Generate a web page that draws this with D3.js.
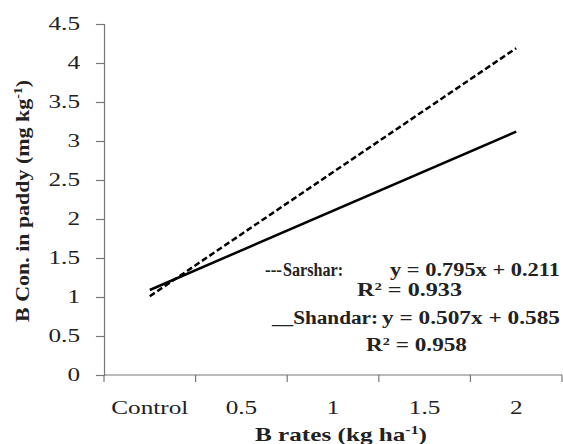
<!DOCTYPE html>
<html>
<head>
<meta charset="utf-8">
<script src="https://cdn.jsdelivr.net/npm/d3@7"></script>
<style>
  body { margin: 0; background: #fff; }
  svg text { font-family: "Liberation Serif", "Times New Roman", serif; fill: #222; }
</style>
</head>
<body>
<svg id="chart" width="563" height="444"></svg>
<script>
// Categories on the x axis
var categories = ['Control', '0.5', '1', '1.5', '2']
var yTicks = [0, 0.5, 1, 1.5, 2, 2.5, 3, 3.5, 4, 4.5]

// Trendline ends (first and last category)
var lineCats = ['Control', '2']
var sarshar = [1.01, 4.19]
var shandar = [1.09, 3.12]

var svg = d3.select('#chart')

// Plot area (avoid window.top clash)
var pLeft = 104, pRight = 562, pTop = 24, pBottom = 375

// The source picture is stretched sideways, so widen
// the glyphs by a factor or to a fixed width
function stretch(sel, k) {
  sel.each(function() {
    var w = this.getComputedTextLength()
    d3.select(this)
      .attr('textLength', w * k)
      .attr('lengthAdjust', 'spacingAndGlyphs')
  })
}

function fit(sel, w) {
  sel.attr('textLength', w).attr('lengthAdjust', 'spacingAndGlyphs')
}

var x = d3.scaleBand()
  .domain(categories)
  .range([pLeft, pRight])

var y = d3.scaleLinear()
  .domain([0, 4.5])
  .range([pBottom, pTop])

// x axis
var xAxis = svg.append('g')
  .attr('transform', 'translate(0,' + pBottom + ')')

xAxis.append('line')
  .attr('x1', pLeft).attr('x2', pRight)
  .attr('stroke', '#777').attr('stroke-width', 1.2)

// ticks sit between categories
var edges = categories.map(c => x(c)).concat([pRight])
xAxis.selectAll('.xt')
  .data(edges)
  .enter().append('line')
  .attr('x1', d => d).attr('x2', d => d)
  .attr('y1', 0).attr('y2', 7)
  .attr('stroke', '#777').attr('stroke-width', 1.2)

xAxis.selectAll('.xl')
  .data(categories)
  .enter().append('text')
  .attr('x', d => x(d) + x.bandwidth() / 2)
  .attr('y', 39)
  .attr('text-anchor', 'middle')
  .style('font-size', '18px')
  .text(d => d)
  .call(stretch, 1.4)

// y axis
var yAxis = svg.append('g')
  .attr('transform', 'translate(' + pLeft + ',0)')
  .call(d3.axisLeft(y).tickValues(yTicks).tickSize(8).tickPadding(16).tickFormat(d3.format('')))

yAxis.select('.domain').attr('stroke', '#777').attr('stroke-width', 1.2)
yAxis.selectAll('.tick line').attr('stroke', '#777').attr('stroke-width', 1.2)
yAxis.selectAll('.tick text')
  .style('font-size', '18px')
  .style('font-family', '"Liberation Serif", serif')
  .attr('fill', '#222')
  .call(stretch, 1.4)

// Axis titles
svg.append('text')
  .attr('transform', 'translate(29,201) rotate(-90)')
  .attr('text-anchor', 'middle')
  .style('font-size', '19px')
  .style('font-weight', 'bold')
  .html('B Con. in paddy (mg kg<tspan dy="-7" style="font-size:12px">-1</tspan><tspan dy="7">)</tspan>')
  .call(fit, 242)

svg.append('text')
  .attr('x', 341)
  .attr('y', 441)
  .attr('text-anchor', 'middle')
  .style('font-size', '19px')
  .style('font-weight', 'bold')
  .html('B  rates (kg ha<tspan dy="-7" style="font-size:12px">-1</tspan><tspan dy="7">)</tspan>')
  .call(fit, 172)

// Trendlines
var line = d3.line()
  .x((d, i) => x(lineCats[i]) + x.bandwidth() / 2)
  .y(d => y(d))

svg.append('path')
  .attr('d', line(shandar))
  .attr('fill', 'none')
  .attr('stroke', '#000')
  .attr('stroke-width', 2.5)

svg.append('path')
  .attr('d', line(sarshar))
  .attr('fill', 'none')
  .attr('stroke', '#000')
  .attr('stroke-width', 2.5)
  .attr('stroke-dasharray', '6,3')

// Equations
var eq = svg.append('g')
  .style('font-size', '18px')
  .style('font-weight', 'bold')

eq.append('text')
  .attr('x', 265).attr('y', 276)
  .text('---')
  .call(fit, 17)

eq.append('text')
  .attr('x', 283).attr('y', 276)
  .text('Sarshar:')
  .call(fit, 60)

eq.append('text')
  .attr('x', 390).attr('y', 276)
  .text('y = 0.795x + 0.211')
  .call(fit, 170)

eq.append('text')
  .attr('x', 357).attr('y', 296)
  .html('R<tspan style="font-size:11px" dy="-6">2</tspan><tspan dy="6"> = 0.933</tspan>')
  .call(fit, 105)

eq.append('text')
  .attr('x', 272).attr('y', 324)
  .text('__Shandar:')
  .call(fit, 106)

eq.append('text')
  .attr('x', 382).attr('y', 324)
  .text('y = 0.507x + 0.585')
  .call(fit, 178)

eq.append('text')
  .attr('x', 366).attr('y', 351)
  .html('R<tspan style="font-size:11px" dy="-6">2</tspan><tspan dy="6"> = 0.958</tspan>')
  .call(fit, 101)
</script>
</body>
</html>
